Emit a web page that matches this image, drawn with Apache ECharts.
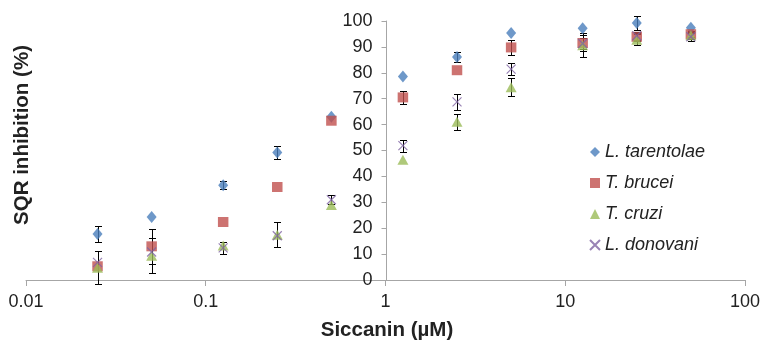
<!DOCTYPE html>
<html><head><meta charset="utf-8">
<script src="https://cdn.jsdelivr.net/npm/echarts@6/dist/echarts.min.js"></script>
<style>html,body{margin:0;padding:0;background:#fff}#c{width:763px;height:344px}</style>
</head><body><div id="c"></div>
<script>
// ---- data ----
const concentrations = [0.025, 0.05, 0.125, 0.25, 0.5, 1.25, 2.5, 5, 12.5, 25, 50];
const seriesNames = ['L. tarentolae', 'T. brucei', 'T. cruzi', 'L. donovani'];
const tarentolae    = [17.8, 24.3, 36.6, 49.2, 63.0, 78.6, 86.1, 95.4, 97.2, 99.2, 97.4];
const tarentolaeErr = [3.0, 0, 1.5, 2.4, 0, 0, 1.8, 0, 0, 2.8, 0];
const brucei        = [5.3, 13.0, 22.4, 35.9, 61.5, 70.5, 81.0, 89.8, 91.5, 93.9, 94.9];
const bruceiErr     = [0, 6.7, 0, 0, 0, 2.4, 0, 2.8, 3.0, 1.5, 1.0];
const cruzi         = [4.7, 9.4, 13.3, 17.5, 29.0, 46.4, 61.1, 74.4, 90.6, 92.8, 94.5];
const cruziErr      = [6.4, 6.7, 0, 4.8, 0, 0, 3.1, 3.5, 4.6, 2.0, 1.5];
const donovani      = [6.8, 10.8, 12.4, 17.1, 31.0, 51.9, 68.8, 81.4, 91.3, 94.3, 93.9];
const donovaniErr   = [0, 0, 2.2, 0, 1.7, 2.3, 3.1, 2.2, 2.0, 1.5, 1.5];
const xTickValues = [0.01, 0.1, 1, 10, 100];
const xTickLabels = ['0.01', '0.1', '1', '10', '100'];
const xTitle = 'Siccanin (µM)';
const yTitle = 'SQR inhibition (%)';

// ---- styling ----
const FONT = '"Liberation Sans", Arial, sans-serif';
const AXIS = '#a6a6a6';
const TXT = '#222';
const colors = ['#4a7ebb', '#c0504d', '#9bbb59', '#8064a2'];
const symbols = ['diamond', 'rect', 'triangle', 'path://M0,0L10,10M10,0L0,10'];
const sizes = [[10, 12], [10.5, 10], [11, 10], [9, 9]];
const allVals = [tarentolae, brucei, cruzi, donovani];
const allErr = [tarentolaeErr, bruceiErr, cruziErr, donovaniErr];

function renderErr(params, api) {
  const x = api.value(0), lo = api.value(1), hi = api.value(2);
  if (hi - lo <= 0) return null;
  const p1 = api.coord([x, hi]), p2 = api.coord([x, lo]);
  const cx = Math.round(p1[0]) + 0.5;
  const y1 = Math.round(p1[1]) + 0.5, y2 = Math.round(p2[1]) + 0.5;
  const w = 3.5;
  const style = { stroke: '#000', lineWidth: 1 };
  return { type: 'group', children: [
    { type: 'line', shape: { x1: cx, y1: y1, x2: cx, y2: y2 }, style: style },
    { type: 'line', shape: { x1: cx - w, y1: y1, x2: cx + w, y2: y1 }, style: style },
    { type: 'line', shape: { x1: cx - w, y1: y2, x2: cx + w, y2: y2 }, style: style }
  ]};
}

const series = [];
allVals.forEach(function (vals, k) {
  series.push({
    type: 'custom', name: seriesNames[k] + ' err', z: 1, silent: true, clip: false,
    renderItem: renderErr, encode: { x: 0, y: [1, 2] },
    data: concentrations.map(function (c, i) { return [c, vals[i] - allErr[k][i], vals[i] + allErr[k][i]]; })
  });
});
allVals.forEach(function (vals, k) {
  const isX = k === 3;
  series.push({
    type: 'scatter', name: seriesNames[k], z: 3 + k,
    symbol: symbols[k], symbolSize: sizes[k],
    itemStyle: isX ? { color: 'rgba(0,0,0,0)', borderColor: colors[k], borderWidth: 1.2 } : { color: colors[k] },
    emphasis: { disabled: true },
    data: concentrations.map(function (c, i) { return [c, vals[i]]; })
  });
});

const chart = echarts.init(document.getElementById('c'));
chart.setOption({
  animation: false,
  grid: { left: 26, right: 16, top: 21, bottom: 64 },
  legend: {
    data: seriesNames, orient: 'vertical', left: 584, top: 138,
    itemWidth: 10, itemHeight: 10, itemGap: 13,
    textStyle: { fontSize: 18, fontStyle: 'italic', color: TXT, fontFamily: FONT }
  },
  xAxis: {
    type: 'log', logBase: 10, min: 0.01, max: 100,
    axisLine: { show: true, lineStyle: { color: AXIS } },
    axisTick: { show: true, length: 6, lineStyle: { color: AXIS } },
    minorTick: { show: false }, splitLine: { show: false },
    axisLabel: {
      fontSize: 18, color: TXT, fontFamily: FONT, margin: 13,
      formatter: function (v) {
        for (let i = 0; i < xTickValues.length; i++) {
          if (Math.abs(Math.log10(v) - Math.log10(xTickValues[i])) < 1e-6) return xTickLabels[i];
        }
        return '';
      }
    }
  },
  yAxis: {
    type: 'value', min: 0, max: 100, interval: 10, offset: -360.5,
    axisLine: { show: true, onZero: false, lineStyle: { color: AXIS } },
    axisTick: { show: true, length: 5, lineStyle: { color: AXIS } },
    splitLine: { show: false },
    axisLabel: { fontSize: 18, color: TXT, fontFamily: FONT, margin: 14 }
  },
  graphic: [
    { type: 'text', x: 387, y: 330,
      style: { text: xTitle, font: 'bold 20.5px ' + FONT, fill: TXT, align: 'center', verticalAlign: 'middle' } },
    { type: 'text', x: 22, y: 135, rotation: Math.PI / 2,
      style: { text: yTitle, font: 'bold 20.5px ' + FONT, fill: TXT, align: 'center', verticalAlign: 'middle' } }
  ],
  series: series
});
</script></body></html>
